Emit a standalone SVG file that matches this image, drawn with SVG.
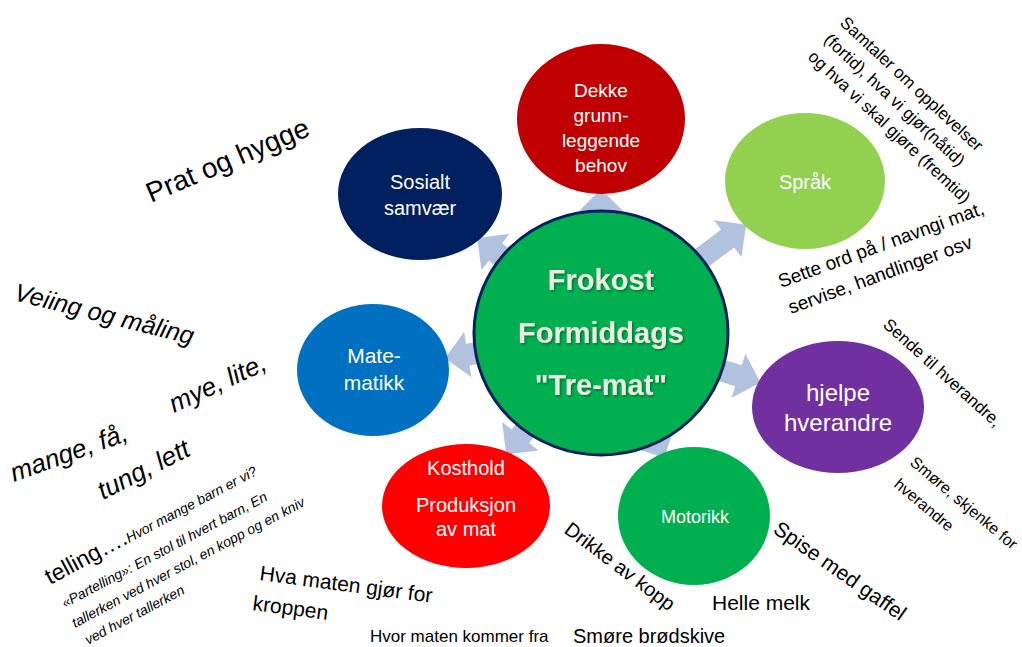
<svg xmlns="http://www.w3.org/2000/svg" width="1022" height="647" viewBox="0 0 1022 647">
<defs>
<style>
.arr{fill:#B1C2DF}
.nt{font-family:"Liberation Sans",Arial,sans-serif;fill:#ffffff;text-anchor:middle}
.ct{font-family:"Liberation Sans",Arial,sans-serif;font-weight:bold;font-size:29px;fill:#EEECE1;text-anchor:middle;filter:url(#sh)}
.an{font-family:"Liberation Sans",Arial,sans-serif;fill:#000000}
.it{font-style:italic}
</style>
<filter id="sh" x="-10%" y="-10%" width="130%" height="140%">
<feDropShadow dx="1.5" dy="1.5" stdDeviation="1" flood-color="#000000" flood-opacity="0.35"/>
</filter>
</defs>
<rect width="1022" height="647" fill="#ffffff"/>
<g id="connectors">
<path class="arr" transform="translate(601,333) rotate(-90)" d="M100,-11 L121,-11 L121,-23 L144,0 L121,23 L121,11 L100,11 Z"/>
<path class="arr" transform="translate(601,333) rotate(-36.7)" d="M100,-11 L158,-11 L158,-23 L181,0 L158,23 L158,11 L100,11 Z"/>
<path class="arr" transform="translate(601,333) rotate(17.3)" d="M100,-11 L144,-11 L144,-23 L167,0 L144,23 L144,11 L100,11 Z"/>
<path class="arr" transform="translate(601,333) rotate(63.1)" d="M100,-11 L117,-11 L117,-23 L140,0 L117,23 L117,11 L100,11 Z"/>
<path class="arr" transform="translate(601,333) rotate(128)" d="M100,-11 L131,-11 L131,-23 L154,0 L131,23 L131,11 L100,11 Z"/>
<path class="arr" transform="translate(601,333) rotate(170.8)" d="M100,-11 L135,-11 L135,-23 L158,0 L135,23 L135,11 L100,11 Z"/>
<path class="arr" transform="translate(601,333) rotate(-142.5)" d="M100,-11 L133,-11 L133,-23 L156,0 L133,23 L133,11 L100,11 Z"/>
</g>
<g id="center">
<ellipse cx="601" cy="333" rx="127" ry="122" fill="#00B050" stroke="#002060" stroke-width="3"/>
<text class="ct" x="601" y="290">Frokost</text>
<text class="ct" x="601" y="343">Formiddags</text>
<text class="ct" x="601" y="395">"Tre-mat"</text>
</g>
<g id="dekke">
<ellipse cx="601" cy="119" rx="84" ry="75" fill="#C00000"/>
<text class="nt" font-size="19" x="601" y="97">Dekke</text>
<text class="nt" font-size="19" x="601" y="122">grunn-</text>
<text class="nt" font-size="19" x="601" y="147">leggende</text>
<text class="nt" font-size="19" x="601" y="172">behov</text>
</g>
<g id="sprak">
<ellipse cx="805" cy="181" rx="80" ry="68" fill="#92D050"/>
<text class="nt" font-size="20" x="805" y="189">Språk</text>
</g>
<g id="hjelpe">
<ellipse cx="838" cy="407" rx="86" ry="66" fill="#7030A0"/>
<text class="nt" font-size="24" x="838" y="401">hjelpe</text>
<text class="nt" font-size="24" x="838" y="431">hverandre</text>
</g>
<g id="motorikk">
<ellipse cx="694" cy="516" rx="76" ry="69" fill="#00B050"/>
<text class="nt" font-size="18" x="695" y="523">Motorikk</text>
</g>
<g id="kosthold">
<ellipse cx="466" cy="506" rx="84" ry="62" fill="#FF0000"/>
<text class="nt" font-size="20" x="466" y="475">Kosthold</text>
<text class="nt" font-size="20" x="466" y="512">Produksjon</text>
<text class="nt" font-size="20" x="466" y="536">av mat</text>
</g>
<g id="matematikk">
<ellipse cx="373" cy="370" rx="76" ry="66" fill="#0070C0"/>
<text class="nt" font-size="21" x="374" y="363">Mate-</text>
<text class="nt" font-size="21" x="374" y="390">matikk</text>
</g>
<g id="sosialt">
<ellipse cx="420" cy="194" rx="82" ry="66" fill="#002060"/>
<text class="nt" font-size="20" x="420" y="189">Sosialt</text>
<text class="nt" font-size="20" x="420" y="215">samvær</text>
</g>
<g id="annotations">
<text class="an" font-size="28" transform="translate(151,203) rotate(-23)">Prat og hygge</text>
<text class="an it" font-size="25" transform="translate(13,300) rotate(14)">Veiing og måling</text>
<text class="an it" font-size="26" transform="translate(174,413) rotate(-25)">mye, lite,</text>
<text class="an it" font-size="26" transform="translate(14,482) rotate(-20)">mange, få,</text>
<text class="an it" font-size="26" transform="translate(103,500) rotate(-27)">tung, lett</text>
<text class="an" transform="translate(50,585) rotate(-28)"><tspan font-size="23">telling….</tspan><tspan font-size="14" class="it">Hvor mange barn er vi?</tspan></text>
<text class="an it" font-size="14" transform="translate(65,608) rotate(-28)">«Partelling»: En stol til hvert barn, En</text>
<text class="an it" font-size="14" transform="translate(75,628) rotate(-28)">tallerken ved hver stol, en kopp og en kniv</text>
<text class="an it" font-size="14" transform="translate(88,645) rotate(-28)">ved hver tallerken</text>
<text class="an" font-size="21" transform="translate(259,580) rotate(7.5)">Hva maten gjør for</text>
<text class="an" font-size="21" transform="translate(252,610) rotate(7.5)">kroppen</text>
<text class="an" font-size="17" x="370" y="642">Hvor maten kommer fra</text>
<text class="an" font-size="20" transform="translate(563,532) rotate(37)">Drikke av kopp</text>
<text class="an" font-size="21" x="712" y="610">Helle melk</text>
<text class="an" font-size="20" x="573" y="643">Smøre brødskive</text>
<text class="an" font-size="21" transform="translate(772,532) rotate(35)">Spise med gaffel</text>
<text class="an" font-size="17" transform="translate(839,24) rotate(43)">Samtaler om opplevelser</text>
<text class="an" font-size="17" transform="translate(823,41) rotate(43)">(fortid), hva vi gjør(nåtid)</text>
<text class="an" font-size="17" transform="translate(807,58) rotate(43)">og hva vi skal gjøre (fremtid)</text>
<text class="an" font-size="19" transform="translate(781,288) rotate(-20)">Sette ord på / navngi mat,</text>
<text class="an" font-size="19" transform="translate(791,314) rotate(-20)">servise, handlinger osv</text>
<text class="an" font-size="17" transform="translate(882,326) rotate(42)">Sende til hverandre,</text>
<text class="an" font-size="16" transform="translate(909,464) rotate(40)">Smøre, skjenke for</text>
<text class="an" font-size="16" transform="translate(893,486) rotate(40)">hverandre</text>
</g>
</svg>
